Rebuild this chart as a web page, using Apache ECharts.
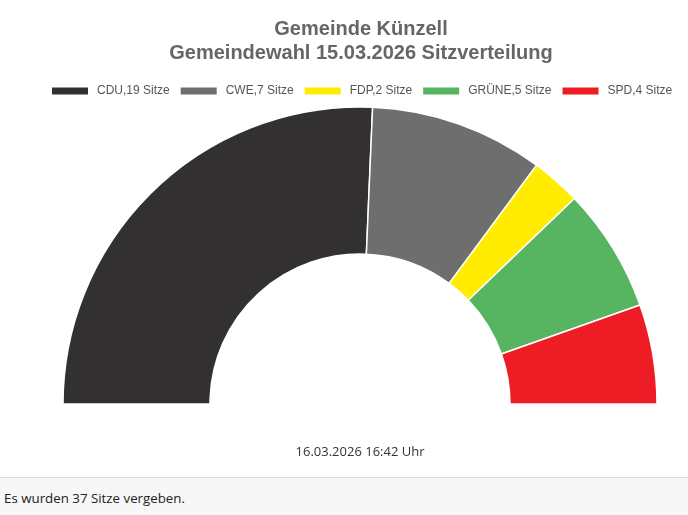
<!DOCTYPE html>
<html>
<head>
<meta charset="utf-8">
<script src="https://cdn.jsdelivr.net/npm/echarts@6/dist/echarts.min.js"></script>
<style>
html,body{margin:0;padding:0;width:688px;height:515px;overflow:hidden;background:#fff;font-family:"Open Sans","Noto Sans",Arial,sans-serif;}
#chart{width:688px;height:477px;}
#foot{position:absolute;left:0;top:477px;width:688px;height:38px;background:#f7f7f7;border-top:1px solid #dcdcdc;box-sizing:border-box;font-size:13.3px;color:#222;padding:11px 0 0 4px;font-family:"Open Sans","Noto Sans",Arial,sans-serif;}
</style>
</head>
<body>
<div id="chart"></div>
<div id="foot">Es wurden 37 Sitze vergeben.</div>
<script>
const parties = ["CDU", "CWE", "FDP", "GRÜNE", "SPD"];
const seats = [19, 7, 2, 5, 4];
const colors = ["#323031", "#6e6e6e", "#ffec00", "#57b460", "#ee1d25"];
const titleLines = ["Gemeinde Künzell", "Gemeindewahl 15.03.2026 Sitzverteilung"];
const stamp = "16.03.2026 16:42 Uhr";

const data = parties.map((p, i) => ({
  name: p + "," + seats[i] + " Sitze",
  value: seats[i],
  itemStyle: { color: colors[i] }
}));

const chart = echarts.init(document.getElementById('chart'));
chart.setOption({
  animation: false,
  title: [{
    text: titleLines.join("\n"),
    left: 356, top: 12, textAlign: 'center',
    textStyle: { fontFamily: 'Liberation Sans, Arial', fontSize: 20, fontWeight: 'bold', color: '#666', lineHeight: 24 }
  }, {
    text: stamp,
    left: 355, top: 441, textAlign: 'center',
    textStyle: { fontFamily: 'Open Sans, Arial', fontSize: 13, fontWeight: 'normal', color: '#333' }
  }],
  legend: {
    top: 80, left: 45,
    itemWidth: 38, itemHeight: 9, itemGap: 9,
    icon: 'rect',
    textStyle: { fontFamily: 'Liberation Sans, Arial', fontSize: 12, color: '#555', padding: [0, 0, 0, 3] },
    data: data.map(d => d.name)
  },
  series: [{
    type: 'pie',
    center: [360, 404],
    radius: [150, 297],
    startAngle: 180,
    endAngle: 0,
    clockwise: true,
    label: { show: false },
    labelLine: { show: false },
    itemStyle: { borderColor: '#fff', borderWidth: 1.5 },
    emphasis: { disabled: true },
    data: data
  }]
});
</script>
</body>
</html>
